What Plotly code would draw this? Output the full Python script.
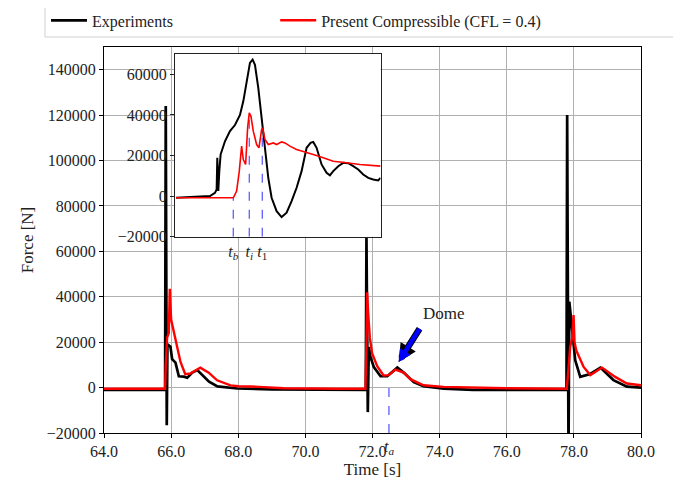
import plotly.graph_objects as go

# ---------------- data ----------------
exp_t = [64.00, 64.80, 65.50, 65.82, 65.84, 65.855, 65.87, 65.89, 65.93, 65.98, 66.03, 66.13,
         66.23, 66.38, 66.48, 66.63, 66.78, 66.93, 67.13, 67.38, 67.97, 69.00, 70.00, 71.00,
         71.80, 71.82, 71.84, 71.86, 71.89, 71.94, 72.04, 72.24, 72.44, 72.74, 72.93, 73.23,
         73.52, 74.12, 75.00, 76.50, 77.78, 77.80, 77.82, 77.84, 77.864, 77.94, 78.04, 78.19,
         78.49, 78.79, 79.18, 79.58, 80.00]
exp_f = [-1000, -900, -1000, -1000, 124000, 2000, -16600, 19000, 18500, 18000, 12500, 11000,
         5000, 4800, 4300, 6600, 7700, 5500, 2600, 500, -400, -800, -900, -1000,
         -1000, 66000, 5000, -10800, 17900, 13500, 9000, 5000, 5000, 8800, 6600, 2400,
         600, -500, -1000, -900, -1000, 120000, 5000, -30000, 37800, 25300, 12000, 4700,
         6000, 8800, 3300, 400, 0]

sim_t = [64.00, 65.82, 65.84, 65.88, 65.93, 65.96, 66.00, 66.08, 66.18, 66.28, 66.42, 66.57,
         66.87, 67.12, 67.37, 67.77, 68.00, 68.36, 69.36, 71.00, 71.79, 71.82, 71.84, 71.87,
         71.92, 71.99, 72.14, 72.33, 72.48, 72.68, 72.93, 73.13, 73.52, 74.12, 76.00, 77.79,
         77.84, 77.89, 77.95, 77.99, 78.02, 78.07, 78.29, 78.49, 78.84, 79.23, 79.58, 80.00]
sim_f = [-500, -500, 10000, 22000, 24000, 43500, 30000, 24000, 17900, 11300, 5900, 6200,
         8800, 6600, 3200, 1000, 600, 500, -300, -500, -500, 20000, 42000, 33000,
         22000, 15000, 9400, 5300, 5500, 7900, 6600, 3700, 1000, 300, -300, -500,
         8000, 17900, 22000, 31900, 20000, 16400, 9100, 5500, 8800, 4700, 1800, 1000]

inset_exp_t = [65.8406, 65.8610, 65.8640, 65.8650, 65.8654, 65.8660, 65.8666, 65.8674, 65.8700,
               65.8730, 65.8760, 65.8790, 65.8810, 65.8830, 65.8850, 65.8866, 65.8880, 65.8900,
               65.8920, 65.8940, 65.8960, 65.8980, 65.9010, 65.9040, 65.9070, 65.9100, 65.9130,
               65.9160, 65.9190, 65.9214, 65.9230, 65.9250, 65.9280, 65.9310, 65.9330, 65.9350,
               65.9380, 65.9410, 65.9440, 65.9470, 65.9500, 65.9530, 65.9560, 65.9590, 65.9620,
               65.9634]
inset_exp_f = [-800, 0, 1600, 3300, 18850, 2500, 12300, 20500, 27000,
               32000, 35000, 40000, 46700, 56500, 65600, 67200, 64700, 53300,
               38500, 22100, 9000, -800, -7400, -10300, -8200, -2500, 4100,
               12300, 23800, 26200, 26700, 23800, 15600, 11500, 10200, 12300,
               14750, 16400, 16200, 14750, 13100, 10650, 9000, 8200, 7700,
               9000]

inset_sim_t = [65.8406, 65.8750, 65.8770, 65.8786, 65.8800, 65.8810, 65.8824, 65.8836, 65.8846,
               65.8856, 65.8870, 65.8890, 65.8904, 65.8920, 65.8926, 65.8940, 65.8960, 65.8990,
               65.9010, 65.9040, 65.9060, 65.9090, 65.9130, 65.9170, 65.9230, 65.9290, 65.9350,
               65.9430, 65.9510, 65.9634]
inset_sim_f = [-800, -800, 2500, 12300, 24600, 18000, 15600, 33600, 41000,
               39300, 32000, 25400, 23800, 32800, 33600, 27900, 25400, 26200,
               25400, 26700, 26200, 24600, 23000, 22100, 20500, 18900, 17200,
               16400, 15600, 14750]

marker_t = [65.8750, 65.8846, 65.8924]          # t_b, t_i, t_1
marker_f = [-800, 41000, 33000]
marker_labels = ["<i>t</i><sub><i>b</i></sub>", "<i>t</i><sub><i>i</i></sub>", "<i>t</i><sub>1</sub>"]

ta_t = 72.49
ta_f = 3200

x_ticks = [64, 66, 68, 70, 72, 74, 76, 78, 80]
y_ticks = [-20000, 0, 20000, 40000, 60000, 80000, 100000, 120000, 140000]
inset_y_ticks = [-20000, 0, 20000, 40000, 60000]

# ---------------- figure ----------------
FONT = "Liberation Serif"
DASH = "rgba(40,40,255,0.75)"
TXT = "#222"

fig = go.Figure()

fig.add_trace(go.Scatter(x=exp_t, y=exp_f, mode="lines", name="Experiments", legend="legend",
                         line=dict(color="black", width=2.7)))
fig.add_trace(go.Scatter(x=sim_t, y=sim_f, mode="lines", name="Present Compressible (CFL = 0.4)",
                         legend="legend2", line=dict(color="red", width=2.4)))
fig.add_trace(go.Scatter(x=[ta_t, ta_t], y=[-20000, ta_f], mode="lines", showlegend=False,
                         line=dict(color=DASH, width=1.3, dash="dash")))

# inset
for t, f in zip(marker_t, marker_f):
    fig.add_trace(go.Scatter(x=[t, t], y=[-20000, f], mode="lines", showlegend=False,
                             xaxis="x2", yaxis="y2",
                             line=dict(color=DASH, width=1.3, dash="dash")))
fig.add_trace(go.Scatter(x=inset_exp_t, y=inset_exp_f, mode="lines", showlegend=False,
                         xaxis="x2", yaxis="y2", line=dict(color="black", width=2)))
fig.add_trace(go.Scatter(x=inset_sim_t, y=inset_sim_f, mode="lines", showlegend=False,
                         xaxis="x2", yaxis="y2", line=dict(color="red", width=1.6)))

axis_common = dict(showline=True, linecolor="black", linewidth=1, mirror=True,
                   ticks="outside", ticklen=4, tickcolor="black",
                   tickfont=dict(family=FONT, size=16, color=TXT),
                   zeroline=False)

legend_common = dict(orientation="h", y=1.113, xanchor="left", yanchor="top",
                     bgcolor="rgba(0,0,0,0)", borderwidth=0, itemwidth=36,
                     font=dict(family=FONT, size=16, color=TXT))

# the page body adds an 8 px offset at top/left, so the figure is 8 px smaller
fig.update_layout(
    width=673, height=475,
    margin=dict(l=96, r=40, t=39, b=50, autoexpand=False),
    paper_bgcolor="white", plot_bgcolor="white",
    font=dict(family=FONT, size=16, color=TXT),
    xaxis=dict(range=[64, 80], tickvals=x_ticks, tickformat=".1f",
               showgrid=True, gridcolor="#b0b0b0", gridwidth=1,
               title=dict(text="Time [s]", font=dict(family=FONT, size=17), standoff=2),
               **axis_common),
    yaxis=dict(range=[-20000, 150000], tickvals=y_ticks, tickformat="d",
               showgrid=True, gridcolor="#b0b0b0", gridwidth=1,
               title=dict(text="Force [N]", font=dict(family=FONT, size=17), standoff=8),
               **axis_common),
    xaxis2=dict(domain=[0.1322, 0.515], anchor="y2", range=[65.84, 65.9634],
                showline=True, linecolor=TXT, linewidth=1, mirror=True,
                showgrid=False, zeroline=False, ticks="",
                tickvals=marker_t, ticktext=marker_labels,
                tickfont=dict(family=FONT, size=16, color=TXT)),
    yaxis2=dict(domain=[0.5085, 0.9819], anchor="x2", range=[-20000, 70000],
                showline=True, linecolor=TXT, linewidth=1, mirror=True,
                showgrid=False, zeroline=False, ticks="outside", ticklen=4, tickcolor=TXT,
                tickvals=inset_y_ticks, tickformat="d",
                tickfont=dict(family=FONT, size=16, color=TXT)),
    legend=dict(x=-0.108, **legend_common),
    legend2=dict(x=0.3188, **legend_common),
    shapes=[dict(type="rect", xref="paper", yref="paper",
                 x0=-0.1099, x1=1.0652, y0=1.0259, y1=1.114,
                 line=dict(color="#d0d0d0", width=1), fillcolor="rgba(0,0,0,0)")],
    annotations=[
        dict(x=72.78, y=11300, ax=73.43, ay=26600, axref="x", ayref="y", xref="x", yref="y",
             text="", showarrow=True, arrowhead=2, arrowsize=0.55, arrowwidth=6.5,
             arrowcolor="black"),
        dict(x=72.78, y=11300, ax=73.43, ay=26600, axref="x", ayref="y", xref="x", yref="y",
             text="", showarrow=True, arrowhead=2, arrowsize=0.55, arrowwidth=4.5,
             arrowcolor="blue"),
        dict(x=74.12, y=32800, xref="x", yref="y", text="Dome", showarrow=False,
             font=dict(family=FONT, size=17, color=TXT)),
        dict(x=ta_t, y=0, xref="x", yref="paper", yanchor="top", yshift=-3,
             text="<i>t</i><sub><i>a</i></sub>", showarrow=False,
             font=dict(family=FONT, size=16, color=TXT)),
    ],
)

fig.write_html("out.html")
